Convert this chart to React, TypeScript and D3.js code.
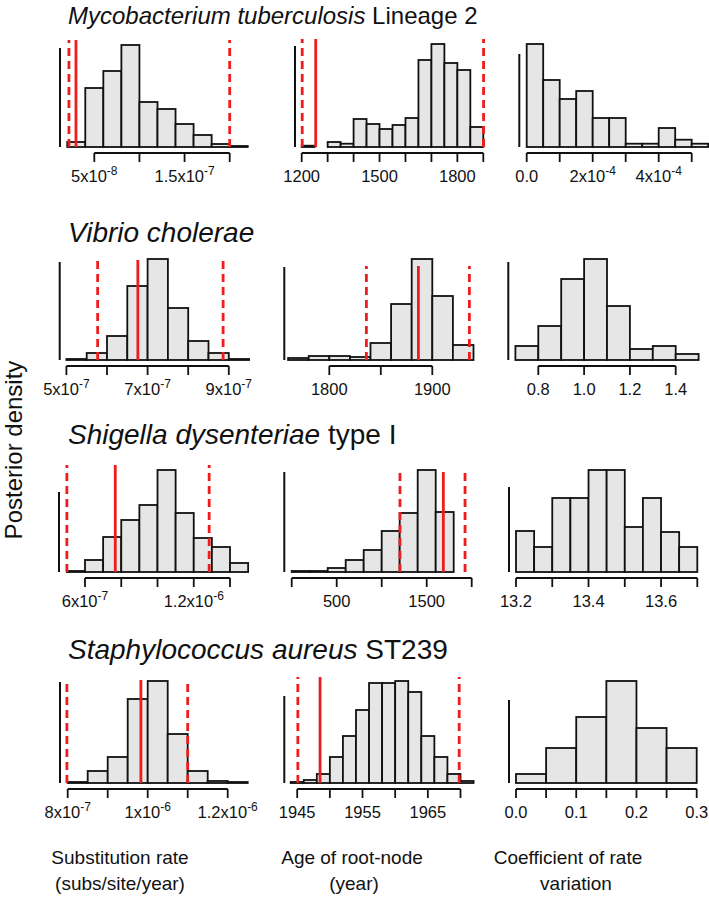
import React from "react";
import * as d3 from "d3";

// ---------- DATA ----------
// Row 1: Mycobacterium tuberculosis Lineage 2
const mtbRateBreaks = [2e-8, 4e-8, 6e-8, 8e-8, 10e-8, 12e-8, 14e-8, 16e-8, 18e-8, 20e-8, 22e-8];
const mtbRateDensity = [5, 59, 76, 102, 45, 38, 23, 12, 3, 1];
const mtbRateHpd = [2.19e-8, 2.97e-8, 2.0e-7];
const mtbRateTicks = [5e-8, 1e-7, 1.5e-7, 2e-7];
const mtbRateLabels = ["5x10^-8", "", "1.5x10^-7", ""];

const mtbAgeBreaks = [1150, 1200, 1250, 1300, 1350, 1400, 1450, 1500, 1550, 1600, 1650, 1700, 1750, 1800, 1850, 1900];
const mtbAgeDensity = [0, 1.3, 0, 5, 3.3, 28, 23, 18, 22, 29, 87, 103, 84, 77, 20];
const mtbAgeHpd = [1202, 1254, 1901];
const mtbAgeTicks = [1200, 1300, 1400, 1500, 1600, 1700, 1800, 1900];
const mtbAgeLabels = ["1200", "", "", "1500", "", "", "1800", ""];

const mtbCovBreaks = [0, 0.5e-4, 1e-4, 1.5e-4, 2e-4, 2.5e-4, 3e-4, 3.5e-4, 4e-4, 4.5e-4, 5e-4, 5.5e-4];
const mtbCovDensity = [103, 67, 48, 56, 29, 29, 3.3, 3.3, 19, 7.3, 3.3];
const mtbCovTicks = [0, 1e-4, 2e-4, 3e-4, 4e-4, 5e-4];
const mtbCovLabels = ["0.0", "", "2x10^-4", "", "4x10^-4", ""];

// Row 2: Vibrio cholerae
const vcRateBreaks = [5e-7, 5.5e-7, 6e-7, 6.5e-7, 7e-7, 7.5e-7, 8e-7, 8.5e-7, 9e-7, 9.5e-7];
const vcRateDensity = [1, 7, 24, 74, 101, 52, 19, 7, 1];
const vcRateHpd = [5.77e-7, 6.76e-7, 8.86e-7];
const vcRateTicks = [5e-7, 6e-7, 7e-7, 8e-7, 9e-7];
const vcRateLabels = ["5x10^-7", "", "7x10^-7", "", "9x10^-7"];

const vcAgeBreaks = [1760, 1780, 1800, 1820, 1840, 1860, 1880, 1900, 1920, 1940];
const vcAgeDensity = [2, 4, 4, 3, 17, 56, 101, 64, 15];
const vcAgeHpd = [1836, 1886.5, 1936];
const vcAgeTicks = [1800, 1850, 1900];
const vcAgeLabels = ["1800", "", "1900"];

const vcCovBreaks = [0.7, 0.8, 0.9, 1.0, 1.1, 1.2, 1.3, 1.4, 1.5];
const vcCovDensity = [14, 34, 81, 101, 54, 11, 14, 6];
const vcCovTicks = [0.8, 1.0, 1.2, 1.4];
const vcCovLabels = ["0.8", "1.0", "1.2", "1.4"];

// Row 3: Shigella dysenteriae type I
const sdRateBreaks = [5e-7, 6e-7, 7e-7, 8e-7, 9e-7, 10e-7, 11e-7, 12e-7, 13e-7, 14e-7, 15e-7];
const sdRateDensity = [1, 12, 35, 52, 67, 102, 59, 34, 25, 9];
const sdRateHpd = [5.0e-7, 7.67e-7, 1.285e-6];
const sdRateTicks = [6e-7, 8e-7, 10e-7, 12e-7, 14e-7];
const sdRateLabels = ["6x10^-7", "", "", "1.2x10^-6", ""];

const sdAgeBreaks = [0, 200, 400, 600, 800, 1000, 1200, 1400, 1600, 1800];
const sdAgeDensity = [1, 1, 4, 12, 22, 41, 59, 102, 60];
const sdAgeHpd = [1203, 1685, 1926];
const sdAgeTicks = [0, 500, 1000, 1500, 2000];
const sdAgeLabels = ["", "500", "", "1500", ""];

const sdCovBreaks = [13.2, 13.25, 13.3, 13.35, 13.4, 13.45, 13.5, 13.55, 13.6, 13.65, 13.7];
const sdCovDensity = [41, 25, 74, 74, 102, 102, 45, 74, 40, 25];
const sdCovTicks = [13.2, 13.3, 13.4, 13.5, 13.6, 13.7];
const sdCovLabels = ["13.2", "", "13.4", "", "13.6", ""];

// Row 4: Staphylococcus aureus ST239
const saRateBreaks = [8e-7, 8.5e-7, 9e-7, 9.5e-7, 10e-7, 10.5e-7, 11e-7, 11.5e-7, 12e-7, 12.5e-7];
const saRateDensity = [1, 12, 26, 84, 102, 49, 12, 2, 1];
const saRateHpd = [7.98e-7, 9.83e-7, 1.1e-6];
const saRateTicks = [8e-7, 9e-7, 10e-7, 11e-7, 12e-7];
const saRateLabels = ["8x10^-7", "", "1x10^-6", "", "1.2x10^-6"];

const saAgeBreaks = [1944, 1946, 1948, 1950, 1952, 1954, 1956, 1958, 1960, 1962, 1964, 1966, 1968, 1970, 1972];
const saAgeDensity = [1, 3, 9, 26, 47, 73, 100, 100, 102, 91, 47, 26, 9, 2];
const saAgeHpd = [1945.1, 1948.5, 1969.8];
const saAgeTicks = [1945, 1950, 1955, 1960, 1965, 1970];
const saAgeLabels = ["1945", "", "1955", "", "1965", ""];

const saCovBreaks = [0, 0.05, 0.1, 0.15, 0.2, 0.25, 0.3];
const saCovDensity = [9, 35, 66, 102, 55, 35];
const saCovTicks = [0, 0.05, 0.1, 0.15, 0.2, 0.25, 0.3];
const saCovLabels = ["0.0", "", "0.1", "", "0.2", "", "0.3"];

const rowTitles = [
  { italic: "Mycobacterium tuberculosis", rest: " Lineage 2" },
  { italic: "Vibrio cholerae", rest: "" },
  { italic: "Shigella dysenteriae", rest: " type I" },
  { italic: "Staphylococcus aureus", rest: " ST239" },
];
const columnLabels = [
  ["Substitution rate", "(subs/site/year)"],
  ["Age of root-node", "(year)"],
  ["Coefficient of rate", "variation"],
];
const yLabel = "Posterior density";

// ---------- LAYOUT ----------
const FONT = "'Liberation Sans', Arial, Helvetica, sans-serif";
const RED = "#ee1c1c";

type Panel = {
  breaks: number[]; dens: number[]; ticks: number[]; labels: string[];
  hpd?: number[]; dom: [number, number]; rng: [number, number];
  axisX: number; base: number; yTop: number; redTop?: number;
};

const rowBase = [147, 360, 572, 783];
const titleY = [24, 242, 444, 659];
const titleSize = [24, 28, 28, 28];

const panels: Panel[] = [
  { breaks: mtbRateBreaks, dens: mtbRateDensity, ticks: mtbRateTicks, labels: mtbRateLabels, hpd: mtbRateHpd,
    dom: [5e-8, 2e-7], rng: [94.3, 229.7], axisX: 60, base: rowBase[0], yTop: 99, redTop: 107 },
  { breaks: mtbAgeBreaks, dens: mtbAgeDensity, ticks: mtbAgeTicks, labels: mtbAgeLabels, hpd: mtbAgeHpd,
    dom: [1200, 1900], rng: [301.7, 483.3], axisX: 295, base: rowBase[0], yTop: 101, redTop: 108 },
  { breaks: mtbCovBreaks, dens: mtbCovDensity, ticks: mtbCovTicks, labels: mtbCovLabels,
    dom: [0, 5e-4], rng: [526.7, 691.7], axisX: 519.3, base: rowBase[0], yTop: 93 },

  { breaks: vcRateBreaks, dens: vcRateDensity, ticks: vcRateTicks, labels: vcRateLabels, hpd: vcRateHpd,
    dom: [5e-7, 9e-7], rng: [66.4, 228.8], axisX: 59.7, base: rowBase[1], yTop: 98, redTop: 100 },
  { breaks: vcAgeBreaks, dens: vcAgeDensity, ticks: vcAgeTicks, labels: vcAgeLabels, hpd: vcAgeHpd,
    dom: [1800, 1900], rng: [329.3, 432.3], axisX: 284.3, base: rowBase[1], yTop: 93, redTop: 94 },
  { breaks: vcCovBreaks, dens: vcCovDensity, ticks: vcCovTicks, labels: vcCovLabels,
    dom: [0.8, 1.4], rng: [538.3, 675.7], axisX: 508.3, base: rowBase[1], yTop: 98 },

  { breaks: sdRateBreaks, dens: sdRateDensity, ticks: sdRateTicks, labels: sdRateLabels, hpd: sdRateHpd,
    dom: [6e-7, 1.4e-6], rng: [85, 230], axisX: 59, base: rowBase[2], yTop: 80, redTop: 107 },
  { breaks: sdAgeBreaks, dens: sdAgeDensity, ticks: sdAgeTicks, labels: sdAgeLabels, hpd: sdAgeHpd,
    dom: [500, 1500], rng: [336.7, 426.7], axisX: 284.3, base: rowBase[2], yTop: 100, redTop: 100 },
  { breaks: sdCovBreaks, dens: sdCovDensity, ticks: sdCovTicks, labels: sdCovLabels,
    dom: [13.2, 13.7], rng: [516, 697.3], axisX: 509, base: rowBase[2], yTop: 85 },

  { breaks: saRateBreaks, dens: saRateDensity, ticks: saRateTicks, labels: saRateLabels, hpd: saRateHpd,
    dom: [8e-7, 1.2e-6], rng: [67.7, 227.7], axisX: 60, base: rowBase[3], yTop: 101, redTop: 103 },
  { breaks: saAgeBreaks, dens: saAgeDensity, ticks: saAgeTicks, labels: saAgeLabels, hpd: saAgeHpd,
    dom: [1945, 1970], rng: [297.2, 460.5], axisX: 284.3, base: rowBase[3], yTop: 87, redTop: 106 },
  { breaks: saCovBreaks, dens: saCovDensity, ticks: saCovTicks, labels: saCovLabels,
    dom: [0, 0.3], rng: [516, 696.7], axisX: 509, base: rowBase[3], yTop: 83 },
];

function TickLabel({ s, x, y }: { s: string; x: number; y: number }) {
  if (!s) return null;
  const [b, e] = s.split("^");
  return (
    <text x={x} y={y} textAnchor="middle" fontSize={16.5} fontFamily={FONT} fill="#111">
      {b}
      {e && <tspan dy={-7} fontSize={12}>{e}</tspan>}
    </text>
  );
}

function HistPanel({ p }: { p: Panel }) {
  const x = d3.scaleLinear().domain(p.dom).range(p.rng);
  const y = d3.scaleLinear().domain([0, 100]).range([p.base, p.base - 100]);
  const axisY = p.base + 6;
  return (
    <g>
      {p.dens.map((d, i) => {
        const x0 = x(p.breaks[i]);
        const x1 = x(p.breaks[i + 1]);
        return (
          <rect key={i} x={x0} y={y(d)} width={x1 - x0} height={y(0) - y(d)}
            fill="#e6e6e6" stroke="#111" strokeWidth={1.8} />
        );
      })}
      <line x1={p.axisX} x2={p.axisX} y1={y(0)} y2={y(p.yTop)} stroke="#111" strokeWidth={2} />
      <line x1={x(p.ticks[0])} x2={x(p.ticks[p.ticks.length - 1])} y1={axisY} y2={axisY} stroke="#111" strokeWidth={1.8} />
      {p.ticks.map((t, i) => (
        <g key={i}>
          <line x1={x(t)} x2={x(t)} y1={axisY} y2={axisY + 9} stroke="#111" strokeWidth={1.8} />
          <TickLabel s={p.labels[i]} x={x(t)} y={p.base + 35} />
        </g>
      ))}
      {p.hpd && p.redTop !== undefined && (
        <g>
          <line x1={x(p.hpd[0])} x2={x(p.hpd[0])} y1={y(0)} y2={y(p.redTop)} stroke={RED} strokeWidth={2.8} strokeDasharray="8,5" />
          <line x1={x(p.hpd[1])} x2={x(p.hpd[1])} y1={y(0)} y2={y(p.redTop)} stroke={RED} strokeWidth={2.8} />
          <line x1={x(p.hpd[2])} x2={x(p.hpd[2])} y1={y(0)} y2={y(p.redTop)} stroke={RED} strokeWidth={2.8} strokeDasharray="8,5" />
        </g>
      )}
    </g>
  );
}

export default function App() {
  return (
    <svg width={709} height={902} style={{ position: "absolute", left: 0, top: 0, background: "#fff" }}>
      {rowTitles.map((t, i) => (
        <text key={i} x={68} y={titleY[i]} fontSize={titleSize[i]} fontFamily={FONT} fill="#111">
          <tspan fontStyle="italic">{t.italic}</tspan>
          {t.rest && <tspan>{t.rest}</tspan>}
        </text>
      ))}
      {panels.map((p, i) => <HistPanel key={i} p={p} />)}
      <text transform="translate(22,450) rotate(-90)" textAnchor="middle" fontSize={24} fontFamily={FONT} fill="#111">
        {yLabel}
      </text>
      {columnLabels.map((c, i) => (
        <g key={i}>
          <text x={[120, 352, 568][i]} y={864} textAnchor="middle" fontSize={19} fontFamily={FONT} fill="#111">{c[0]}</text>
          <text x={[120, 354, 576][i]} y={890} textAnchor="middle" fontSize={19} fontFamily={FONT} fill="#111">{c[1]}</text>
        </g>
      ))}
    </svg>
  );
}
